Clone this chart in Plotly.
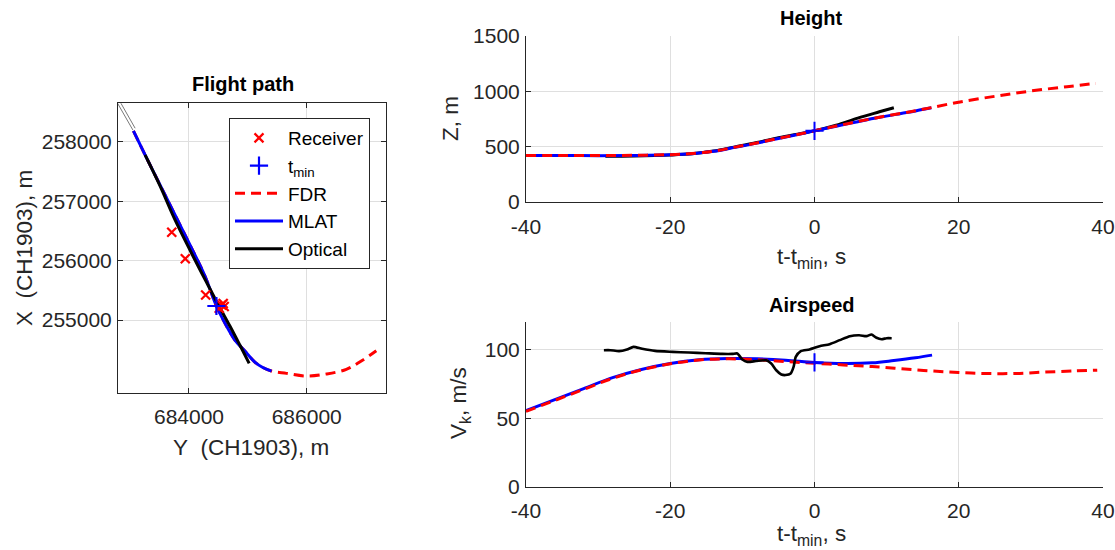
import plotly.graph_objects as go

# ---------------- data ----------------
# Flight path (Swiss grid CH1903): Y easting, X northing, metres
mlat_path_y = [683056, 683254, 683508, 683763, 684017, 684271, 684466, 684610, 684780, 684949, 685119, 685254, 685402]
mlat_path_x = [258187, 257782, 257276, 256770, 256265, 255742, 255236, 254949, 254663, 254477, 254292, 254199, 254140]

fdr_path_y = [683056, 683254, 683508, 683763, 684017, 684271, 684466, 684610, 684780, 684949, 685119, 685254, 685402,
              685656, 685995, 686334, 686673, 686954, 687182]
fdr_path_x = [258187, 257782, 257276, 256770, 256265, 255742, 255236, 254949, 254663, 254477, 254292, 254199, 254140,
              254101, 254056, 254090, 254169, 254326, 254482]

optical_path_y = [683254, 683508, 683763, 684102, 684322, 684509, 684695, 684864, 685022]
optical_path_x = [257782, 257259, 256686, 256012, 255590, 255236, 254899, 254578, 254270]

# thin approach guide lines (two edges)
guide_a_y = [682705, 683046]
guide_a_x = [258794, 258203]
guide_b_y = [682763, 683085]
guide_b_x = [258794, 258232]

receiver_y = [683707, 683937, 684283, 684554, 684598, 684514, 684581]
receiver_x = [256479, 256034, 255422, 255253, 255228, 255197, 255278]

tmin_y = [684466]
tmin_x = [255236]

# Height vs time relative to t_min
t_mlat_h = [-40, -35, -30, -25, -20, -17, -14, -11, -8, -5, -2, 0, 3, 6, 9, 12, 14, 16.2]
z_mlat = [420, 420, 419, 421, 427, 437, 458, 495, 532, 574, 614, 643, 685, 726, 765, 800, 823, 851]

t_fdr_h = [-40, -35, -30, -25, -20, -17, -14, -11, -8, -5, -2, 0, 3, 6, 9, 12, 14, 16.2, 20, 25, 30, 35, 39]
z_fdr = [421, 421, 420, 422, 428, 438, 459, 496, 533, 575, 615, 644, 686, 727, 766, 801, 824, 853, 902, 955, 1003, 1042, 1072]

t_opt_h = [-29, -25, -20, -17, -14, -11, -8, -5, -2, 0, 3, 6, 9, 11]
z_opt = [414, 416, 425, 436, 460, 498, 537, 580, 618, 643, 693, 758, 815, 852]

# Airspeed vs time relative to t_min
t_mlat_v = [-40, -36, -32, -28, -24, -20, -16, -12, -8, -4, 0, 4, 8, 11, 14, 16.3]
v_mlat = [55.5, 63.5, 71.5, 79.5, 85.5, 89.8, 92.5, 93.4, 93.2, 92.2, 90.6, 89.8, 90.3, 92.0, 94.0, 95.9]

t_fdr_v = [-40, -36, -32, -28, -24, -20, -16, -12, -8, -4, 0, 4, 8, 12, 16, 20, 24, 28, 32, 36, 39.2]
v_fdr = [55.0, 63.0, 71.0, 79.0, 85.2, 89.6, 92.4, 93.2, 92.6, 91.2, 90.0, 88.8, 87.6, 86.0, 84.5, 83.3, 82.5, 82.6, 83.6, 84.4, 85.0]

t_opt_v = [-29.2, -28.3, -27.1, -26.0, -25.1, -23.9, -22.1, -19.7, -17.4, -15.1, -12.8, -11.4, -10.7, -10.0, -9.3,
           -8.1, -6.7, -6.0, -5.3, -4.6, -4.0, -3.3, -2.9, -2.6, -1.9, -0.7, 0.7, 2.1, 3.5, 4.9, 6.2, 7.2, 7.9,
           8.6, 9.3, 10.0, 10.7]
v_opt = [99.5, 99.5, 98.8, 100.0, 101.9, 100.5, 99.0, 98.3, 97.8, 97.3, 96.8, 96.8, 97.1, 92.7, 91.0,
         91.6, 92.1, 89.8, 84.9, 81.8, 81.4, 82.6, 87.3, 94.6, 98.8, 100.0, 102.4, 103.9, 106.8, 109.7, 110.4, 109.7, 110.9,
         108.5, 107.5, 108.2, 108.2]

tmin_t = [0]
tmin_z = [643]
tmin_v = [90.6]

# tick labels
path_x_ticks = [684000, 686000]
path_y_ticks = [255000, 256000, 257000, 258000]
t_ticks = [-40, -20, 0, 20, 40]
t_tick_text = ["-40", "-20", "0", "20", "40"]
z_ticks = [0, 500, 1000, 1500]
v_ticks = [0, 50, 100]

# ---------------- styles ----------------
RED = "#ff0000"
BLUE = "#0000ff"
BLACK = "#000000"
AX = "#262626"
GRID = "#dfdfdf"
FONT = "Liberation Sans, Arial, Helvetica, sans-serif"
W, H = 1115, 550

fig = go.Figure()

# --- flight path panel ---
for gy, gx in ((guide_a_y, guide_a_x), (guide_b_y, guide_b_x)):
    fig.add_trace(go.Scatter(x=gy, y=gx, mode="lines", line=dict(color="#555555", width=0.8),
                             showlegend=False, hoverinfo="skip", xaxis="x", yaxis="y"))
fig.add_trace(go.Scatter(x=fdr_path_y, y=fdr_path_x, mode="lines", name="FDR", legendrank=3,
                         line=dict(color=RED, width=3, dash="10px,6px", shape="spline"), xaxis="x", yaxis="y"))
fig.add_trace(go.Scatter(x=mlat_path_y, y=mlat_path_x, mode="lines", name="MLAT", legendrank=4,
                         line=dict(color=BLUE, width=3, shape="spline"), xaxis="x", yaxis="y"))
fig.add_trace(go.Scatter(x=optical_path_y, y=optical_path_x, mode="lines", name="Optical", legendrank=5,
                         line=dict(color=BLACK, width=3, shape="spline"), xaxis="x", yaxis="y"))
fig.add_trace(go.Scatter(x=receiver_y, y=receiver_x, mode="markers", name="Receiver", legendrank=1,
                         marker=dict(symbol="x-thin", size=9, line=dict(color=RED, width=2.2)),
                         xaxis="x", yaxis="y"))
fig.add_trace(go.Scatter(x=tmin_y, y=tmin_x, mode="markers", name="t<sub>min</sub>", legendrank=2,
                         marker=dict(symbol="cross-thin", size=13, line=dict(color=BLUE, width=2.2)),
                         xaxis="x", yaxis="y"))

# --- height panel ---
fig.add_trace(go.Scatter(x=t_opt_h, y=z_opt, mode="lines", showlegend=False,
                         line=dict(color=BLACK, width=3, shape="spline"), xaxis="x2", yaxis="y2"))
fig.add_trace(go.Scatter(x=t_mlat_h, y=z_mlat, mode="lines", showlegend=False,
                         line=dict(color=BLUE, width=3, shape="spline"), xaxis="x2", yaxis="y2"))
fig.add_trace(go.Scatter(x=t_fdr_h, y=z_fdr, mode="lines", showlegend=False,
                         line=dict(color=RED, width=3, dash="10px,6px", shape="spline"), xaxis="x2", yaxis="y2"))
fig.add_trace(go.Scatter(x=tmin_t, y=tmin_z, mode="markers", showlegend=False,
                         marker=dict(symbol="cross-thin", size=13, line=dict(color=BLUE, width=2)),
                         xaxis="x2", yaxis="y2"))

# --- airspeed panel ---
fig.add_trace(go.Scatter(x=t_mlat_v, y=v_mlat, mode="lines", showlegend=False,
                         line=dict(color=BLUE, width=3, shape="spline"), xaxis="x3", yaxis="y3"))
fig.add_trace(go.Scatter(x=t_fdr_v, y=v_fdr, mode="lines", showlegend=False,
                         line=dict(color=RED, width=3, dash="10px,6px", shape="spline"), xaxis="x3", yaxis="y3"))
fig.add_trace(go.Scatter(x=t_opt_v, y=v_opt, mode="lines", showlegend=False,
                         line=dict(color=BLACK, width=2.6, shape="spline", smoothing=0.6), xaxis="x3", yaxis="y3"))
fig.add_trace(go.Scatter(x=tmin_t, y=tmin_v, mode="markers", showlegend=False,
                         marker=dict(symbol="cross-thin", size=13, line=dict(color=BLUE, width=2)),
                         xaxis="x3", yaxis="y3"))

common = dict(showgrid=True, gridcolor=GRID, gridwidth=1, zeroline=False, showline=True,
              linecolor=AX, linewidth=1, ticks="inside", ticklen=5, tickwidth=1, tickcolor=AX,
              tickfont=dict(family=FONT, size=21, color=AX), fixedrange=True, automargin=False)

def px_x(p):
    return p / W

def px_y(p):
    return 1 - p / H

fig.update_layout(
    width=W, height=H, margin=dict(l=0, r=0, t=0, b=0, autoexpand=False),
    paper_bgcolor="white", plot_bgcolor="white",
    font=dict(family=FONT, color=AX),
    xaxis=dict(common, domain=[px_x(118), px_x(386)], range=[682794, 687347],
               tickvals=path_x_ticks, tickformat="d", mirror="ticks", anchor="y", ticklabelstandoff=4),
    yaxis=dict(common, domain=[px_y(393.3), px_y(103.3)], range=[253765, 258652],
               tickvals=path_y_ticks, tickformat="d", mirror="ticks", anchor="x", ticklabelstandoff=1),
    xaxis2=dict(common, domain=[px_x(526), px_x(1103)], range=[-40, 40],
                tickvals=t_ticks, ticktext=t_tick_text, anchor="y2", ticklabelstandoff=6),
    yaxis2=dict(common, domain=[px_y(202), px_y(36)], range=[0, 1500],
                tickvals=z_ticks, anchor="x2", ticklabelstandoff=1),
    xaxis3=dict(common, domain=[px_x(526), px_x(1103)], range=[-40, 40],
                tickvals=t_ticks, ticktext=t_tick_text, anchor="y3", ticklabelstandoff=5),
    yaxis3=dict(common, domain=[px_y(487), px_y(322)], range=[0, 120],
                tickvals=v_ticks, anchor="x3", ticklabelstandoff=1),
    legend=dict(x=px_x(229), y=px_y(118), xanchor="left", yanchor="top",
                bgcolor="white", bordercolor=AX, borderwidth=1,
                font=dict(family=FONT, size=19, color=BLACK), itemwidth=48),
    showlegend=True,
)

def label(text, x, y, size=22.5, angle=0, bold=False, color=AX, yanchor="middle"):
    fig.add_annotation(text=f"<b>{text}</b>" if bold else text, x=px_x(x), y=px_y(y),
                       xref="paper", yref="paper", showarrow=False, textangle=angle,
                       xanchor="center", yanchor=yanchor,
                       font=dict(family=FONT, size=size, color=color))

label("Flight path", 243, 84, size=20, bold=True, color=BLACK)
label("Height", 812, 18, size=20, bold=True, color=BLACK)
label("Airspeed", 812, 305, size=20, bold=True, color=BLACK)
label("X\u00a0 (CH1903), m", 24, 248, angle=-90)
label("Y\u00a0 (CH1903), m", 251, 447)
label("Z, m", 451, 119, angle=-90)
label("t-t<sub>min</sub>, s", 812, 242, yanchor="top")
label("V<sub>k</sub>, m/s", 460, 403, angle=-90)
label("t-t<sub>min</sub>, s", 812, 519, yanchor="top")

fig.write_html("out.html")
